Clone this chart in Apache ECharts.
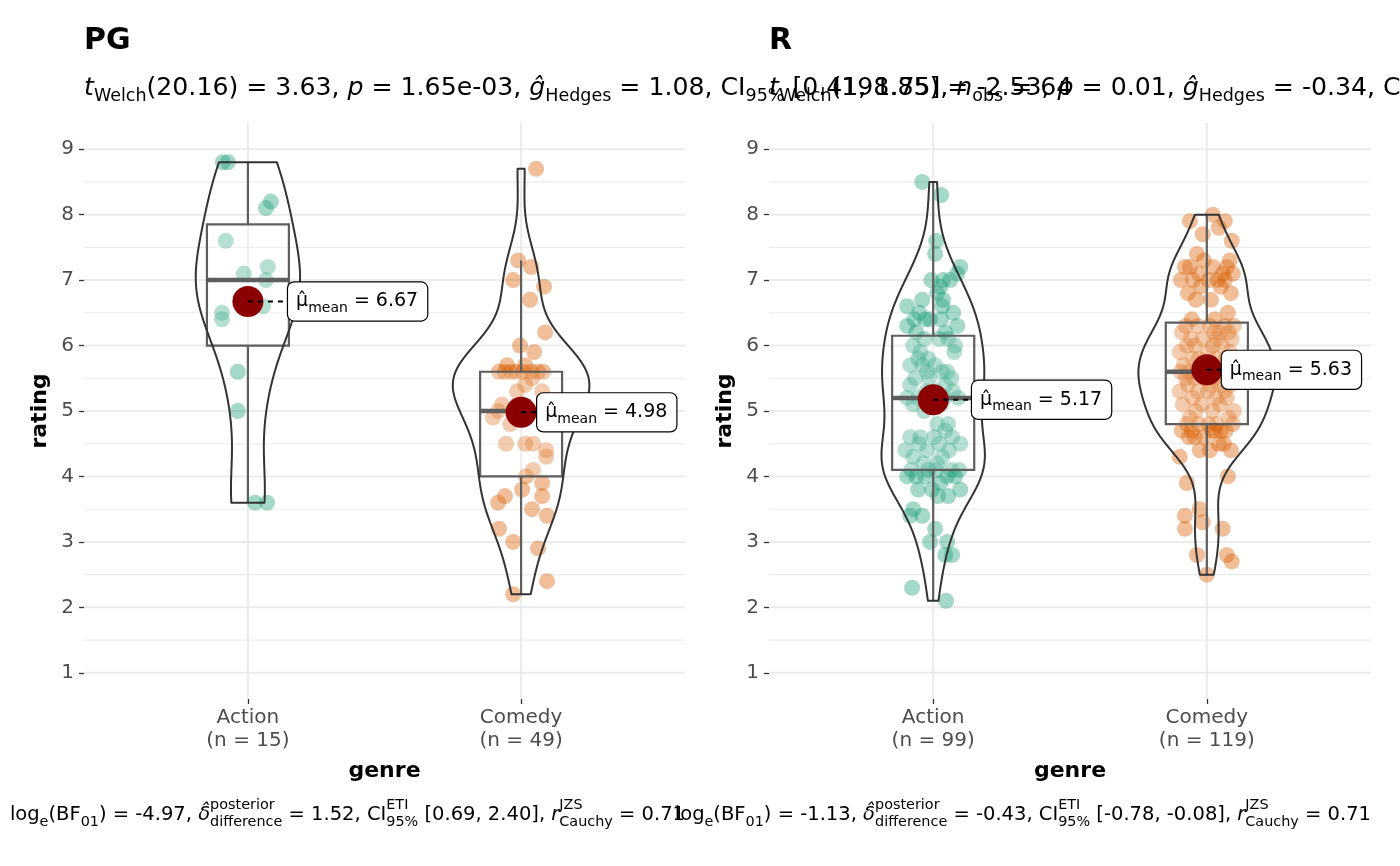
<!DOCTYPE html>
<html>
<head>
<meta charset="utf-8">
<script src="https://cdn.jsdelivr.net/npm/echarts@6/dist/echarts.min.js"></script>
<style>html,body{margin:0;padding:0;background:#fff}#c{width:1400px;height:866px}</style>
</head>
<body>
<div id="c"></div>
<script>
// ---------------- data ----------------
const panelNames = ['PG', 'R'];
const genreNames = ['Action', 'Comedy'];
const groupSizes = [[15, 49], [99, 119]];
const yTickValues = [1, 2, 3, 4, 5, 6, 7, 8, 9];

const pgActionRating = [8.8, 8.8, 8.2, 8.1, 7.6, 7.1, 7.2, 7.0, 6.6, 6.5, 6.4, 5.6, 5.0, 3.6, 3.6];
const pgActionJitter = [-.092, -.073, .084, .066, -.081, -.015, .073, .066, .055, -.095, -.095, -.037, -.037, .026, .070];

const pgComedyRating = [8.7, 7.3, 7.2, 7.0, 6.9, 6.7, 6.2, 6.0, 5.9, 5.7, 5.6, 5.6, 5.6, 5.6, 5.5, 5.3, 5.3, 5.4, 5.1, 4.9,
  5.0, 4.8, 4.5, 4.5, 4.5, 4.4, 4.3, 4.1, 4.0, 3.9, 3.8, 3.7, 3.6, 3.7, 3.5, 3.4, 3.2, 3.0, 2.9, 2.4,
  2.2, 5.0, 5.0, 5.0, 5.6, 5.6, 5.6, 5.6, 5.7];
const pgComedyJitter = [.055, -.011, .037, -.029, .084, .033, .088, -.004, .048, .015, -.059, -.018, .037, .062, .040, .077, -.015, .015, -.070, -.103,
  -.084, -.040, -.055, .015, .044, .092, .092, .044, .018, .077, .004, -.059, -.084, .077, .040, .095, -.081, -.029, .062, .095,
  -.029, -.018, .029, .066, -.081, .007, -.037, .081, -.051];

const rActionRating = [2.1, 2.3, 2.8, 2.8, 3.0, 3.0, 3.2, 3.4, 3.4, 3.5, 3.7, 3.7, 3.8, 3.8, 3.8, 3.9, 4.0, 4.0, 4.0, 4.0,
  4.0, 4.1, 4.1, 4.1, 4.1, 4.1, 4.2, 4.2, 4.3, 4.3, 4.4, 4.4, 4.4, 4.5, 4.5, 4.5, 4.6, 4.6, 4.6, 4.6,
  4.7, 4.8, 4.8, 5.0, 5.1, 5.1, 5.1, 5.2, 5.2, 5.2, 5.2, 5.3, 5.3, 5.3, 5.4, 5.4, 5.5, 5.5, 5.5, 5.6,
  5.6, 5.7, 5.7, 5.8, 5.9, 5.6, 5.7, 5.8, 5.9, 6.0, 6.0, 6.1, 6.1, 6.1, 6.2, 6.2, 6.3, 6.3, 6.4, 6.8,
  7.0, 6.4, 6.4, 6.4, 6.5, 6.5, 6.6, 6.6, 6.7, 6.7, 6.9, 7.0, 7.0, 7.1, 7.2, 7.4, 7.6, 8.3, 8.5];
const rActionJitter = [.047, -.077, .044, .069, -.011, .051, .007, -.040, -.084, -.073, .055, .018, -.055, -.004, .099, .026, -.095, .051, -.029, .080,
  -.062, .011, -.080, .066, -.018, .095, .015, -.036, -.073, .033, -.102, -.022, .058, .099, -.051, .022, .069, -.084, -.047, .004,
  .044, .015, .055, -.033, -.073, .029, -.007, .091, -.095, .040, -.055, .073, -.026, .011, -.084, .044, -.015, .066, -.066, .051,
  -.022, -.040, .007, -.055, -.047, .033, -.084, -.018, .077, .080, -.073, .022, -.033, .055, .044, -.062, -.095, .088, -.029, .015,
  .062, -.069, .029, -.011, .073, -.051, -.095, .033, -.040, .036, .026, .036, -.007, .088, .099, .007, .011, .029, -.040];

const rComedyRating = [2.5, 2.7, 2.8, 2.8, 3.2, 3.2, 3.3, 3.4, 3.5, 3.9, 4.0, 4.3, 4.4, 4.5, 4.4, 4.5, 4.6, 4.4, 4.6, 4.7,
  4.6, 4.7, 4.7, 4.7, 4.7, 4.7, 4.8, 4.8, 4.8, 4.8, 4.8, 4.9, 4.9, 5.0, 5.0, 5.0, 5.1, 5.1, 5.1, 5.2,
  5.2, 5.2, 5.3, 5.3, 5.3, 5.3, 5.4, 5.4, 5.4, 5.4, 5.5, 5.5, 5.5, 5.5, 5.5, 5.6, 5.6, 5.6, 5.6, 5.6,
  5.6, 5.6, 5.7, 5.7, 5.7, 5.8, 5.8, 5.8, 5.8, 5.9, 5.9, 5.9, 6.0, 6.0, 6.0, 6.0, 6.1, 6.1, 6.1, 6.1,
  6.2, 6.2, 6.2, 6.2, 6.3, 6.3, 6.3, 6.3, 6.3, 6.4, 6.4, 6.5, 6.7, 6.7, 6.8, 6.8, 6.9, 6.9, 7.0, 7.0,
  7.0, 7.0, 7.0, 7.1, 7.1, 7.1, 7.2, 7.2, 7.2, 7.2, 7.3, 7.3, 7.4, 7.6, 7.7, 7.8, 7.9, 7.9, 8.0];
const rComedyJitter = [0, .091, -.036, .073, -.080, .058, -.015, -.080, -.026, -.073, .077, -.099, .011, .062, -.026, .044, -.066, .088, -.044, .029,
  -.011, .069, -.091, .018, .051, -.055, .095, -.029, .036, -.073, .007, -.062, .080, -.040, .022, .099, -.088, .047, -.018, .073,
  -.051, .033, -.099, .004, .066, -.033, .088, -.069, .015, .051, -.077, -.007, .091, -.047, .029, -.095, .062, -.022, .077, -.036,
  .044, -.066, .011, .095, -.084, .033, -.029, .069, -.051, .004, .084, -.099, .022, -.044, .055, -.073, .036, .091, -.015, -.058,
  .026, .080, -.091, .047, -.033, .066, -.077, .011, .099, -.055, .029, .077, -.040, .015, .088, -.069, .051, -.022, .066, -.095,
  .007, .040, -.051, .095, -.029, .058, -.080, .022, .073, -.062, -.011, .084, -.036, .091, -.015, .044, -.062, .066, .022];

const ratings = [[pgActionRating, pgComedyRating], [rActionRating, rComedyRating]];
const jitters = [[pgActionJitter, pgComedyJitter], [rActionJitter, rComedyJitter]];

const subtitleStats = [
  { df: '20.16', t: '3.63', p: '1.65e-03', g: '1.08', ci: '[0.41, 1.75]' },
  { df: '198.85', t: '-2.53', p: '0.01', g: '-0.34', ci: '[-0.61, -0.07]' }
];
const captionStats = [
  { bf: '-4.97', d: '1.52', ci: '[0.69, 2.40]', r: '0.71' },
  { bf: '-1.13', d: '-0.43', ci: '[-0.78, -0.08]', r: '0.71' }
];

// ---------------- style / layout ----------------
const groupColors = ['#1B9E77', '#D95F02'];
const FAM = 'DejaVu Sans';
const FONT = '"DejaVu Sans"';
const X_MIN = 0.4, X_MAX = 2.6, Y_MIN = 0.6, Y_MAX = 9.4;
const labelOffsets = [[0.147, 0.059], [0.142, 0.055]];
const grids = [
  { left: 84, top: 123, width: 601, height: 576 },
  { left: 769, top: 123, width: 602, height: 576 }
];

// ---------------- statistics ----------------
function q7(s, p) { const h = (s.length - 1) * p; const lo = Math.floor(h); const hi = Math.min(lo + 1, s.length - 1); return s[lo] + (h - lo) * (s[hi] - s[lo]); }
function groupStats(vals) {
  const s = [...vals].sort((a, b) => a - b);
  const q1 = q7(s, 0.25), med = q7(s, 0.5), q3 = q7(s, 0.75), iqr = q3 - q1;
  const lo = s.find(v => v >= q1 - 1.5 * iqr - 1e-9);
  const hi = [...s].reverse().find(v => v <= q3 + 1.5 * iqr + 1e-9);
  const mean = s.reduce((a, b) => a + b, 0) / s.length;
  const sd = Math.sqrt(s.reduce((a, b) => a + (b - mean) * (b - mean), 0) / (s.length - 1));
  return { s, q1, med, q3, lo, hi, mean, sd, iqr };
}
function density(st) {
  const n = st.s.length;
  const bw = 0.9 * Math.min(st.sd, st.iqr / 1.34) * Math.pow(n, -0.2);
  const mn = st.s[0], mx = st.s[n - 1];
  const out = [];
  for (let i = 0; i < 512; i++) {
    const y = mn + (mx - mn) * i / 511;
    let d = 0;
    for (const v of st.s) { const z = (y - v) / bw; d += Math.exp(-0.5 * z * z); }
    out.push([y, d / (n * bw * Math.sqrt(2 * Math.PI))]);
  }
  return out;
}
const stats = ratings.map(pr => pr.map(groupStats));
const dens = stats.map(ps => ps.map(density));
const violinHalf = dens.map(pd => {
  const mx = Math.max(...pd.map(d => Math.max(...d.map(e => e[1]))));
  return pd.map(d => d.map(e => [e[0], e[1] / mx * 0.25]));
});

// ---------------- math text layout ----------------
const mctx = document.createElement('canvas').getContext('2d');
function measure(t, size, st) { mctx.font = (st || '') + ' ' + size + 'px ' + FONT; return mctx.measureText(t).width; }
const MID = 0.346;
function mathLine(parts, x, base, align, M, S, subDy, supDy) {
  const items = []; let cx = 0;
  for (const p of parts) {
    if (p.stack) {
      const w1 = measure(p.stack[0], S), w2 = measure(p.stack[1], S);
      items.push({ t: p.stack[0], size: S, dx: cx, dy: supDy });
      items.push({ t: p.stack[1], size: S, dx: cx, dy: subDy });
      cx += Math.max(w1, w2);
    } else {
      const size = p.s === 'sub' ? S : (p.size || M);
      const st = (p.it ? 'italic ' : '') + (p.b ? 'bold' : '');
      items.push({ t: p.t, size, dx: cx, dy: p.s === 'sub' ? subDy : 0, st });
      cx += measure(p.t, size, st);
    }
  }
  const x0 = align === 'right' ? x - cx : x;
  return items.map(it => ({
    type: 'text', silent: true, z: 100,
    x: x0 + it.dx, y: base + it.dy - MID * it.size,
    style: { text: it.t, font: (it.st || '') + ' ' + it.size + 'px ' + FONT, fill: '#000', align: 'left', verticalAlign: 'middle' }
  }));
}

const graphics = [];
[0, 1].forEach(p => {
  const g = grids[p];
  const nObs = groupSizes[p][0] + groupSizes[p][1];
  const ss = subtitleStats[p], cs = captionStats[p];
  graphics.push(...mathLine([{ t: panelNames[p], b: true }], g.left, 52, 'left', 30, 20, 0, 0));
  graphics.push(...mathLine([
    { t: 't', it: true }, { t: 'Welch', s: 'sub' }, { t: '(' + ss.df + ') = ' + ss.t + ', ' },
    { t: 'p', it: true }, { t: ' = ' + ss.p + ', ' }, { t: 'g\u0302', it: true }, { t: 'Hedges', s: 'sub' },
    { t: ' = ' + ss.g + ', CI' }, { t: '95%', s: 'sub' }, { t: ' ' + ss.ci + ', ' },
    { t: 'n', it: true }, { t: 'obs', s: 'sub' }, { t: ' = ' + nObs }
  ], g.left, 97, 'left', 25.2, 17.5, 6, 0));
  graphics.push(...mathLine([
    { t: 'log' }, { t: 'e', s: 'sub' }, { t: '(BF' }, { t: '01', s: 'sub' }, { t: ') = ' + cs.bf + ', ' },
    { t: '\u03b4\u0302', it: true }, { stack: ['posterior', 'difference'] }, { t: ' = ' + cs.d + ', CI' },
    { stack: ['ETI', '95%'] }, { t: ' ' + cs.ci + ', ' }, { t: 'r', it: true }, { stack: ['JZS', 'Cauchy'] },
    { t: ' = ' + cs.r }
  ], g.left + g.width, 822, 'right', 19.5, 14.4, 5, -12));
  graphics.push({ type: 'text', silent: true, x: g.left + g.width / 2, y: 771,
    style: { text: 'genre', font: 'bold 22px ' + FONT, fill: '#000', align: 'center', verticalAlign: 'middle' } });
  graphics.push({ type: 'text', silent: true, x: g.left - 44, y: g.top + g.height / 2, rotation: Math.PI / 2,
    style: { text: 'rating', font: 'bold 22px ' + FONT, fill: '#000', align: 'center', verticalAlign: 'middle' } });
});

// ---------------- series ----------------
const minorY = yTickValues.slice(1).map((v, i) => (v + yTickValues[i]) / 2);
const series = [];
[0, 1].forEach(p => {
  const ax = { xAxisIndex: p, yAxisIndex: p };
  const gl = [];
  yTickValues.forEach(v => gl.push([1, v, 0]));
  minorY.forEach(v => gl.push([1, v, 1]));
  [1, 2].forEach(v => gl.push([v, 5, 2]));
  series.push(Object.assign({
    type: 'custom', z: 0, silent: true, data: gl, clip: false,
    renderItem(params, api) {
      const kind = api.value(2);
      let a, b;
      if (kind < 2) { a = api.coord([X_MIN, api.value(1)]); b = api.coord([X_MAX, api.value(1)]); }
      else { a = api.coord([api.value(0), Y_MIN]); b = api.coord([api.value(0), Y_MAX]); }
      return { type: 'line', shape: { x1: a[0], y1: a[1], x2: b[0], y2: b[1] },
        style: { stroke: '#EBEBEB', lineWidth: kind === 1 ? 1.1 : 2 } };
    }
  }, ax));
  [0, 1].forEach(gi => {
    series.push(Object.assign({
      type: 'scatter', z: 2, silent: true, symbolSize: 16,
      itemStyle: { color: groupColors[gi], opacity: 0.4 },
      data: ratings[p][gi].map((v, i) => [gi + 1 + jitters[p][gi][i], v])
    }, ax));
  });
  series.push(Object.assign({
    type: 'custom', z: 3, silent: true,
    data: stats[p].map((st, gi) => [gi + 1, st.med, st.lo, st.q1, st.q3, st.hi]),
    renderItem(params, api) {
      const x = api.value(0);
      const hw = api.size([0.15, 0])[0];
      const c = api.coord([x, api.value(1)]);
      const lo = api.coord([x, api.value(2)]), q1 = api.coord([x, api.value(3)]);
      const q3 = api.coord([x, api.value(4)]), hi = api.coord([x, api.value(5)]);
      const st = { stroke: '#5E5E5E', lineWidth: 2.2 };
      return { type: 'group', children: [
        { type: 'line', shape: { x1: c[0], y1: q3[1], x2: c[0], y2: hi[1] }, style: st },
        { type: 'line', shape: { x1: c[0], y1: q1[1], x2: c[0], y2: lo[1] }, style: st },
        { type: 'rect', shape: { x: c[0] - hw, y: q3[1], width: 2 * hw, height: q1[1] - q3[1] },
          style: { fill: 'rgba(255,255,255,0.2)', stroke: '#5E5E5E', lineWidth: 2.2 } },
        { type: 'line', shape: { x1: c[0] - hw, y1: c[1], x2: c[0] + hw, y2: c[1] }, style: { stroke: '#5E5E5E', lineWidth: 4.5 } }
      ] };
    }
  }, ax));
  series.push(Object.assign({
    type: 'custom', z: 4, silent: true,
    data: [[1, 5, 0], [2, 5, 1]],
    renderItem(params, api) {
      const x = api.value(0), gi = api.value(2);
      const prof = violinHalf[p][gi];
      const pts = [];
      prof.forEach(e => pts.push(api.coord([x - e[1], e[0]])));
      for (let i = prof.length - 1; i >= 0; i--) pts.push(api.coord([x + prof[i][1], prof[i][0]]));
      return { type: 'polygon', shape: { points: pts },
        style: { fill: 'none', stroke: '#333333', lineWidth: 2, lineJoin: 'round' } };
    }
  }, ax));
  series.push(Object.assign({
    type: 'scatter', z: 5, silent: true, symbolSize: 31,
    itemStyle: { color: '#8B0000', opacity: 1 },
    data: stats[p].map((st, gi) => [gi + 1, st.mean])
  }, ax));
  series.push(Object.assign({
    type: 'custom', z: 6, silent: true, clip: false,
    data: stats[p].map((st, gi) => [gi + 1, st.mean, labelOffsets[p][gi]]),
    renderItem(params, api) {
      const x = api.value(0), m = api.value(1), off = api.value(2);
      const a = api.coord([x, m]), b = api.coord([x + off, m]);
      return { type: 'group', children: [
        { type: 'line', shape: { x1: a[0], y1: a[1], x2: b[0], y2: b[1] },
          style: { stroke: '#000', lineWidth: 2, lineDash: [5, 5] } },
        { type: 'text', x: b[0], y: b[1],
          style: {
            text: '{a|\u03bc\u0302}{b|mean}{a| = ' + m.toFixed(2) + '}',
            rich: {
              a: { fontSize: 19, fontFamily: FAM, lineHeight: 28, verticalAlign: 'middle', fill: '#000' },
              b: { fontSize: 14, fontFamily: FAM, verticalAlign: 'bottom', fill: '#000' }
            },
            align: 'left', verticalAlign: 'middle',
            backgroundColor: '#fff', borderColor: '#000', borderWidth: 1.2, borderRadius: 6,
            padding: [5, 9, 5, 8]
          } }
      ] };
    }
  }, ax));
});

const option = {
  animation: false,
  backgroundColor: '#fff',
  grid: grids,
  xAxis: [0, 1].map(p => ({
    gridIndex: p, type: 'value', min: X_MIN, max: X_MAX,
    axisLine: { show: false }, splitLine: { show: false },
    axisTick: { show: true, customValues: [1, 2], length: 5, lineStyle: { color: '#333', width: 1.3 } },
    axisLabel: { customValues: [1, 2], fontSize: 20, fontFamily: FAM, color: '#4D4D4D', lineHeight: 23, margin: 7,
      formatter: v => genreNames[Math.round(v) - 1] + '\n(n = ' + groupSizes[p][Math.round(v) - 1] + ')' }
  })),
  yAxis: [0, 1].map(p => ({
    gridIndex: p, type: 'value', min: Y_MIN, max: Y_MAX,
    axisLine: { show: false }, splitLine: { show: false },
    axisTick: { show: true, customValues: yTickValues, length: 5, lineStyle: { color: '#333', width: 1.3 } },
    axisLabel: { customValues: yTickValues, fontSize: 20, fontFamily: FAM, color: '#4D4D4D', margin: 10 }
  })),
  series: series,
  graphic: graphics
};
const chart = echarts.init(document.getElementById('c'), null, { renderer: 'canvas' });
chart.setOption(option);
</script>
</body>
</html>
